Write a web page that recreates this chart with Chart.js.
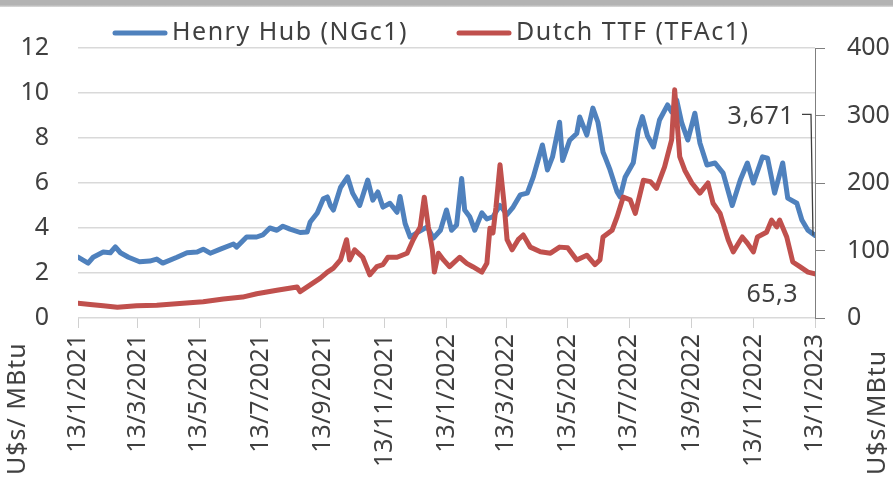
<!DOCTYPE html>
<html>
<head>
<meta charset="utf-8">
<script src="https://cdn.jsdelivr.net/npm/chart.js@4.4.1/dist/chart.umd.min.js"></script>
<style>
    html, body { margin: 0; padding: 0; background: #ffffff; }
    #wrap { position: relative; width: 893px; height: 479px; }
    #topbar {
        position: absolute; left: 0; top: 0; width: 893px; height: 7px;
        background: linear-gradient(#b3b3b3, #b3b3b3 70%, #dcdcdc);
    }
</style>
</head>
<body>
<div id="wrap">
    <canvas id="gas-chart" width="893" height="479"></canvas>
    <div id="topbar"></div>
</div>
<script>
// Tick dates on the x axis (d/m/yyyy)
const tickLabels = ['13/1/2021', '13/3/2021', '13/5/2021', '13/7/2021', '13/9/2021', '13/11/2021',
    '13/1/2022', '13/3/2022', '13/5/2022', '13/7/2022', '13/9/2022', '13/11/2022', '13/1/2023'];

// Henry Hub (NGc1), U$s/MBtu - days since 13/1/2021
const hhDays = [0, 10, 15, 25, 32, 37, 42, 50, 61, 71, 78, 84, 98, 108, 118, 124, 131, 141, 154, 157,
    167, 177, 183, 190, 197, 203, 210, 220, 227, 230, 237, 243, 247, 250, 253, 260, 267, 272, 279, 287,
    292, 297, 302, 309, 316, 319, 324, 329, 336, 346, 352, 359, 365, 370, 375, 380, 383, 388, 393, 400,
    405, 411, 418, 425, 431, 438, 445, 451, 460, 465, 470, 477, 480, 487, 494, 497, 504, 510, 515, 520,
    522, 527, 534, 537, 542, 550, 555, 559, 564, 570, 576, 584, 588, 593, 598, 604, 611, 616, 623, 631,
    639, 648, 656, 663, 669, 678, 683, 690, 698, 703, 712, 717, 723, 730];
const hhValues = [2.71, 2.44, 2.7, 2.93, 2.9, 3.16, 2.9, 2.7, 2.5, 2.53, 2.62, 2.44, 2.7, 2.9, 2.93, 3.06, 2.88, 3.06, 3.29, 3.15,
    3.6, 3.6, 3.69, 4.0, 3.9, 4.08, 3.95, 3.8, 3.82, 4.27, 4.67, 5.3, 5.38, 5.0, 4.8, 5.8, 6.27, 5.55, 5.0, 6.13,
    5.24, 5.6, 4.93, 5.1, 4.7, 5.4, 4.2, 3.6, 3.8, 4.05, 3.55, 3.9, 4.8, 3.9, 4.13, 6.2, 4.8, 4.5, 3.9, 4.67,
    4.4, 4.5, 5.0, 4.6, 4.93, 5.47, 5.55, 6.27, 7.69, 6.58, 7.16, 8.7, 7.0, 7.9, 8.2, 8.93, 8.13, 9.33, 8.7, 7.38,
    7.16, 6.58, 5.6, 5.38, 6.27, 6.9, 8.36, 8.95, 8.1, 7.6, 8.8, 9.47, 9.16, 9.69, 8.67, 7.91, 9.1, 7.78, 6.8, 6.89,
    6.44, 5.0, 6.13, 6.89, 6.0, 7.16, 7.1, 5.55, 6.89, 5.33, 5.1, 4.36, 3.9, 3.671];

// Dutch TTF (TFAc1), right axis - days since 13/1/2021
const ttfDays = [0, 12, 25, 39, 58, 78, 104, 124, 144, 163, 177, 197, 217, 220, 230, 240, 247, 253, 260, 266,
    269, 274, 282, 289, 296, 302, 307, 316, 326, 332, 339, 343, 347, 351, 353, 357, 362, 368, 378, 385,
    391, 400, 405, 408, 411, 414, 418, 422, 425, 430, 436, 441, 448, 458, 468, 477, 485, 494, 504, 512,
    517, 520, 529, 534, 540, 547, 552, 560, 567, 573, 581, 588, 591, 596, 601, 608, 616, 624, 629, 636,
    644, 649, 658, 663, 669, 673, 682, 687, 692, 695, 702, 708, 715, 723, 730];
const ttfValues = [22, 20, 18, 16, 18, 19, 22, 24, 28, 31, 36, 41, 46, 39, 49, 59, 68, 74, 86, 116,
    86, 101, 90, 64, 76, 79, 90, 90, 96, 116, 135, 179, 135, 101, 68, 96, 86, 76, 90, 81,
    76, 68, 81, 133, 126, 164, 227, 170, 116, 101, 116, 123, 105, 98, 96, 105, 104, 86, 93, 79,
    86, 120, 130, 150, 179, 175, 155, 204, 202, 192, 224, 264, 338, 239, 219, 200, 185, 200, 170, 155,
    116, 98, 120, 111, 98, 120, 127, 145, 135, 145, 120, 83, 76, 68, 65.3];

const FONT = '"Noto Sans", "DejaVu Sans", sans-serif';
const TEXT_COLOR = '#404040';
const BLUE = '#4f81bd';
const RED = '#c0504d';

const GasChart = {
    chart: null,

    /**
     * Days between 13/1/2021 and a d/m/yyyy label
     */
    dayOf(label) {
        const [d, m, y] = label.split('/').map(Number);
        return Math.round((Date.UTC(y, m - 1, d) - Date.UTC(2021, 0, 13)) / 86400000);
    },

    toPoints(days, values) {
        return days.map((d, i) => ({ x: d, y: values[i] }));
    },

    // Format with a decimal comma like the source
    comma(v) {
        return String(v).replace('.', ',');
    },

    /**
     * Custom legend, axis titles and end-value labels
     */
    extrasPlugin() {
        const self = this;
        return {
            id: 'extras',
            afterDraw(chart) {
                const ctx = chart.ctx;
                const x = chart.scales.x;
                const y = chart.scales.y;
                const y1 = chart.scales.y1;
                ctx.save();
                ctx.font = '25px ' + FONT;
                ctx.fillStyle = TEXT_COLOR;
                ctx.textBaseline = 'middle';

                // legend
                const items = [
                    { label: chart.data.datasets[0].label, color: BLUE, x0: 113 },
                    { label: chart.data.datasets[1].label, color: RED, x0: 457 }
                ];
                ctx.letterSpacing = '1.5px';
                items.forEach(it => {
                    ctx.strokeStyle = it.color;
                    ctx.lineWidth = 5;
                    ctx.lineCap = 'round';
                    ctx.beginPath();
                    ctx.moveTo(it.x0 + 2, 33);
                    ctx.lineTo(it.x0 + 52, 33);
                    ctx.stroke();
                    ctx.textAlign = 'left';
                    ctx.fillText(it.label, it.x0 + 59, 33);
                });

                // axis titles, rotated
                ctx.letterSpacing = '1px';
                ctx.save();
                ctx.translate(18, 475);
                ctx.rotate(-Math.PI / 2);
                ctx.fillText('U$s/ MBtu', 0, 0);
                ctx.restore();
                ctx.save();
                ctx.translate(878, 475);
                ctx.rotate(-Math.PI / 2);
                ctx.fillText('U$s/MBtu', 0, 0);
                ctx.restore();
                ctx.letterSpacing = '0.5px';

                // end values
                const xEnd = x.getPixelForValue(hhDays[hhDays.length - 1]);
                const hhLast = hhValues[hhValues.length - 1];
                const ttfLast = ttfValues[ttfValues.length - 1];
                const yHH = y.getPixelForValue(hhLast);
                const yLab = y.getPixelForValue(9.05);
                ctx.textAlign = 'right';
                ctx.fillText(self.comma(hhLast), xEnd - 21, yLab + 2);
                ctx.strokeStyle = '#404040';
                ctx.lineWidth = 1.3;
                ctx.lineCap = 'butt';
                ctx.beginPath();
                ctx.moveTo(xEnd - 13, yLab);
                ctx.lineTo(xEnd - 4, yLab);
                ctx.lineTo(xEnd - 2, yHH);
                ctx.stroke();
                ctx.fillText(self.comma(ttfLast), xEnd - 17, y1.getPixelForValue(ttfLast) + 21);
                ctx.restore();
            }
        };
    },

    init() {
        const tickDays = tickLabels.map(l => this.dayOf(l));
        const labelByDay = {};
        tickLabels.forEach((l, i) => { labelByDay[tickDays[i]] = l; });

        const tickFont = { family: FONT, size: 25 };

        this.chart = new Chart(document.getElementById('gas-chart'), {
            type: 'line',
            data: {
                datasets: [
                    {
                        label: 'Henry Hub (NGc1)',
                        data: this.toPoints(hhDays, hhValues),
                        yAxisID: 'y',
                        borderColor: BLUE,
                        borderWidth: 5,
                        order: 1
                    },
                    {
                        label: 'Dutch TTF (TFAc1)',
                        data: this.toPoints(ttfDays, ttfValues),
                        yAxisID: 'y1',
                        borderColor: RED,
                        borderWidth: 5,
                        order: 0
                    }
                ]
            },
            options: {
                responsive: false,
                animation: false,
                events: [],
                layout: { padding: { top: 48, left: 0, right: 0, bottom: 0 } },
                elements: {
                    point: { radius: 0 },
                    line: { tension: 0, borderJoinStyle: 'round', borderCapStyle: 'round' }
                },
                plugins: {
                    legend: { display: false },
                    tooltip: { enabled: false }
                },
                scales: {
                    x: {
                        type: 'linear',
                        min: tickDays[0],
                        max: tickDays[tickDays.length - 1],
                        afterBuildTicks: (s) => { s.ticks = tickDays.map(v => ({ value: v })); },
                        afterFit: (s) => { s.height = 161; },
                        ticks: {
                            autoSkip: false,
                            minRotation: 90,
                            maxRotation: 90,
                            padding: 6,
                            color: TEXT_COLOR,
                            font: tickFont,
                            callback: (v) => labelByDay[v] || ''
                        },
                        grid: { drawOnChartArea: false, drawTicks: true, tickLength: 10, color: '#d0d0d0' },
                        border: { display: false }
                    },
                    y: {
                        position: 'left',
                        min: 0,
                        max: 12,
                        afterFit: (s) => { s.width = 78; },
                        ticks: { stepSize: 2, padding: 29, color: TEXT_COLOR, font: tickFont },
                        grid: { color: '#d9d9d9', lineWidth: 1.5, drawTicks: false },
                        border: { display: false }
                    },
                    y1: {
                        position: 'right',
                        min: 0,
                        max: 400,
                        afterFit: (s) => { s.width = 78; },
                        ticks: { stepSize: 100, padding: 22, color: TEXT_COLOR, font: tickFont },
                        grid: { drawOnChartArea: false, drawTicks: true, tickLength: 10, color: '#7f7f7f' },
                        border: { display: true, color: '#7f7f7f', width: 1 }
                    }
                }
            },
            plugins: [this.extrasPlugin()]
        });
    }
};

GasChart.init();
</script>
</body>
</html>
